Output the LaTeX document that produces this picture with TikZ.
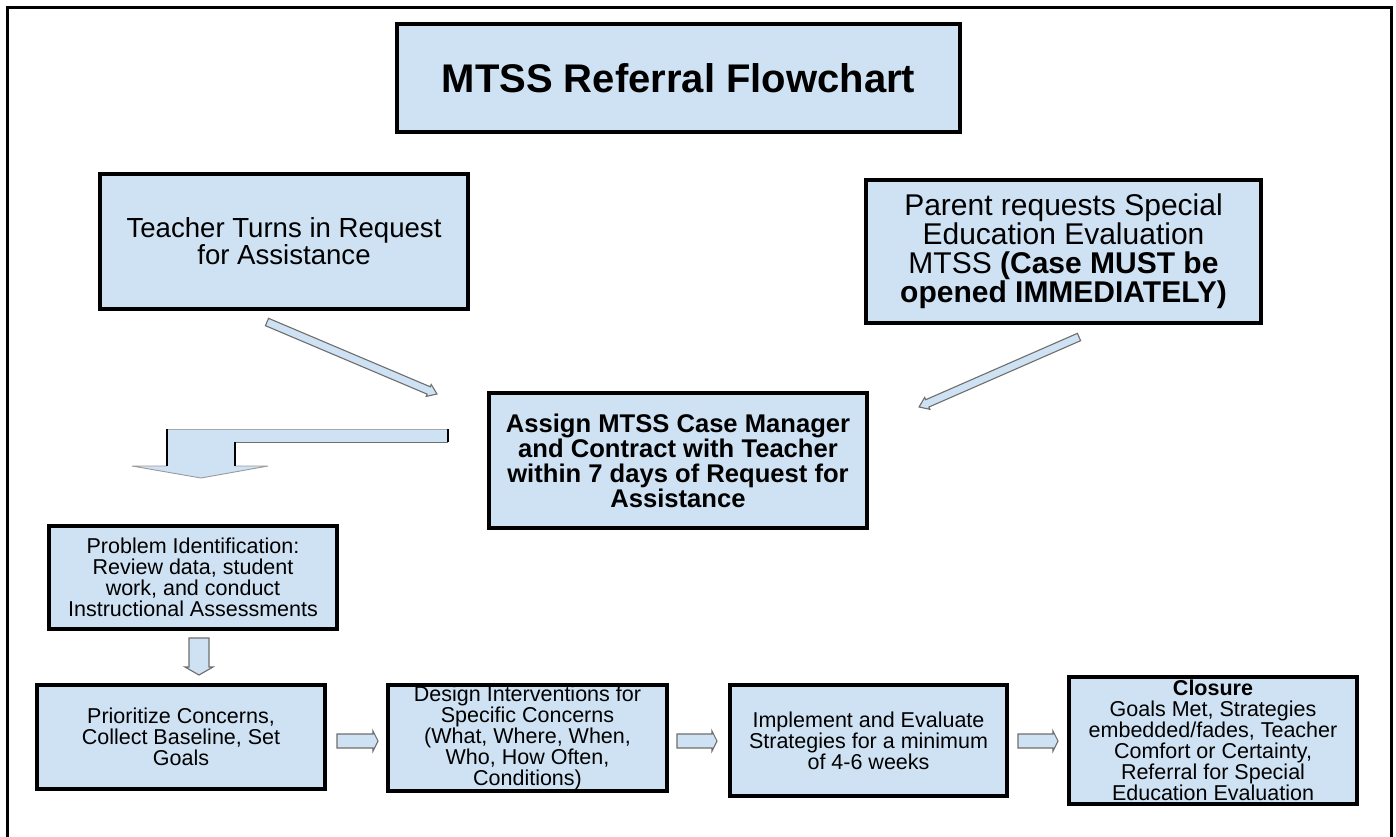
\documentclass[tikz,border=0pt]{standalone}
\usepackage{fontspec}
\setmainfont{Liberation Sans}
\definecolor{boxblue}{HTML}{CFE2F3}
\definecolor{arrgray}{HTML}{6E6E6E}
\begin{document}
\begin{tikzpicture}[x=1pt,y=-1pt,
  box/.style={draw=black, line width=3.2pt, fill=boxblue, inner sep=0pt, align=center, text=black},
  smalltxt/.style={font=\fontsize{21.5}{21}\selectfont},
  blockarr/.style={fill=boxblue, draw=arrgray, line width=1.1pt, line join=miter}]
\useasboundingbox (0,0) rectangle (1396,836);
\fill[white] (0,0) rectangle (1396,836);
\draw[line width=3pt] (7,845) -- (7,7) -- (1391,7) -- (1391,845);

\node[box, line width=4.5pt, minimum width=563pt, minimum height=108pt,
  font=\bfseries\fontsize{40}{48}\selectfont] (title) at (678.5,78) {MTSS Referral Flowchart};

\node[box, minimum width=368pt, minimum height=135pt, font=\fontsize{27.6}{27}\selectfont]
  (teacher) at (284,241.5) {Teacher Turns in Request\\for Assistance};

\node[box, line width=3.6pt, minimum width=395pt, minimum height=143pt, font=\fontsize{30}{29}\selectfont]
  (parent) at (1063.5,251.5) {Parent requests Special\\Education Evaluation\\MTSS \textbf{(Case MUST be}\\\textbf{opened IMMEDIATELY)}};

\node[box, minimum width=378pt, minimum height=135pt, font=\bfseries\fontsize{25.6}{25}\selectfont]
  (assign) at (678,460.5) {Assign MTSS Case Manager\\and Contract with Teacher\\within 7 days of Request for\\Assistance};

\node[box, smalltxt, minimum width=288pt, minimum height=103pt]
  (problem) at (193,577.5) {Problem Identification:\\Review data, student\\work, and conduct\\Instructional Assessments};

\node[box, smalltxt, minimum width=288pt, minimum height=104pt]
  (prior) at (181,737) {Prioritize Concerns,\\Collect Baseline, Set\\Goals};

\node[box, smalltxt, minimum width=279pt, minimum height=106pt]
  (design) at (527.5,738) {Design Interventions for\\Specific Concerns\\(What, Where, When,\\Who, How Often,\\Conditions)};

\node[box, smalltxt, minimum width=277pt, minimum height=111pt]
  (impl) at (868.5,740.5) {Implement and Evaluate\\Strategies for a minimum\\of 4-6 weeks};

\node[box, smalltxt, minimum width=288pt, minimum height=127pt]
  (closure) at (1213,740.5) {\textbf{Closure}\\Goals Met, Strategies\\embedded/fades, Teacher\\Comfort or Certainty,\\Referral for Special\\Education Evaluation};

% diagonal block arrows
\coordinate (d1s) at (267,322);
\coordinate (d2s) at (1079,337);
\draw[blockarr, shift={(d1s)}, rotate=-22.95]
  (0,-4) -- (175.6,-4) -- (175.6,-6.5) -- (184.6,0) -- (175.6,6.5) -- (175.6,4) -- (0,4) -- cycle;
\draw[blockarr, shift={(d2s)}, rotate=-156.37]
  (0,-4) -- (165.6,-4) -- (165.6,-6.5) -- (174.6,0) -- (165.6,6.5) -- (165.6,4) -- (0,4) -- cycle;

% bent arrow from assign to problem identification
\fill[boxblue] (448,429) -- (448,442) -- (235,442) -- (235,466) -- (268,466) -- (201,478)
  -- (132,466) -- (167,466) -- (167,429) -- cycle;
\draw[arrgray!60, line width=0.8pt] (167,429) -- (448,429);
\draw[arrgray, line width=0.8pt] (235,442) -- (448,442);
\draw[arrgray!70, line width=0.9pt] (235,466) -- (268,466) -- (201,478) -- (132,466) -- (167,466);
\draw[black, line width=2.8pt] (167,429) -- (167,466);
\draw[black, line width=2.8pt] (235,442) -- (235,466);
\draw[black, line width=2.8pt] (448,429) -- (448,442);

% small down arrow
\draw[blockarr] (189,638) -- (209,638) -- (209,667) -- (213,667) -- (199,675) -- (185,667)
  -- (189,667) -- cycle;

% small right arrows
\draw[blockarr] (337,734) -- (373,734) -- (373,731) -- (378,741) -- (373,751) -- (373,748)
  -- (337,748) -- cycle;
\draw[blockarr] (677,734) -- (712,734) -- (712,731) -- (717,741) -- (712,751) -- (712,748)
  -- (677,748) -- cycle;
\draw[blockarr] (1018,734) -- (1053,734) -- (1053,731) -- (1058,741) -- (1053,751) -- (1053,748)
  -- (1018,748) -- cycle;
\end{tikzpicture}
\end{document}
